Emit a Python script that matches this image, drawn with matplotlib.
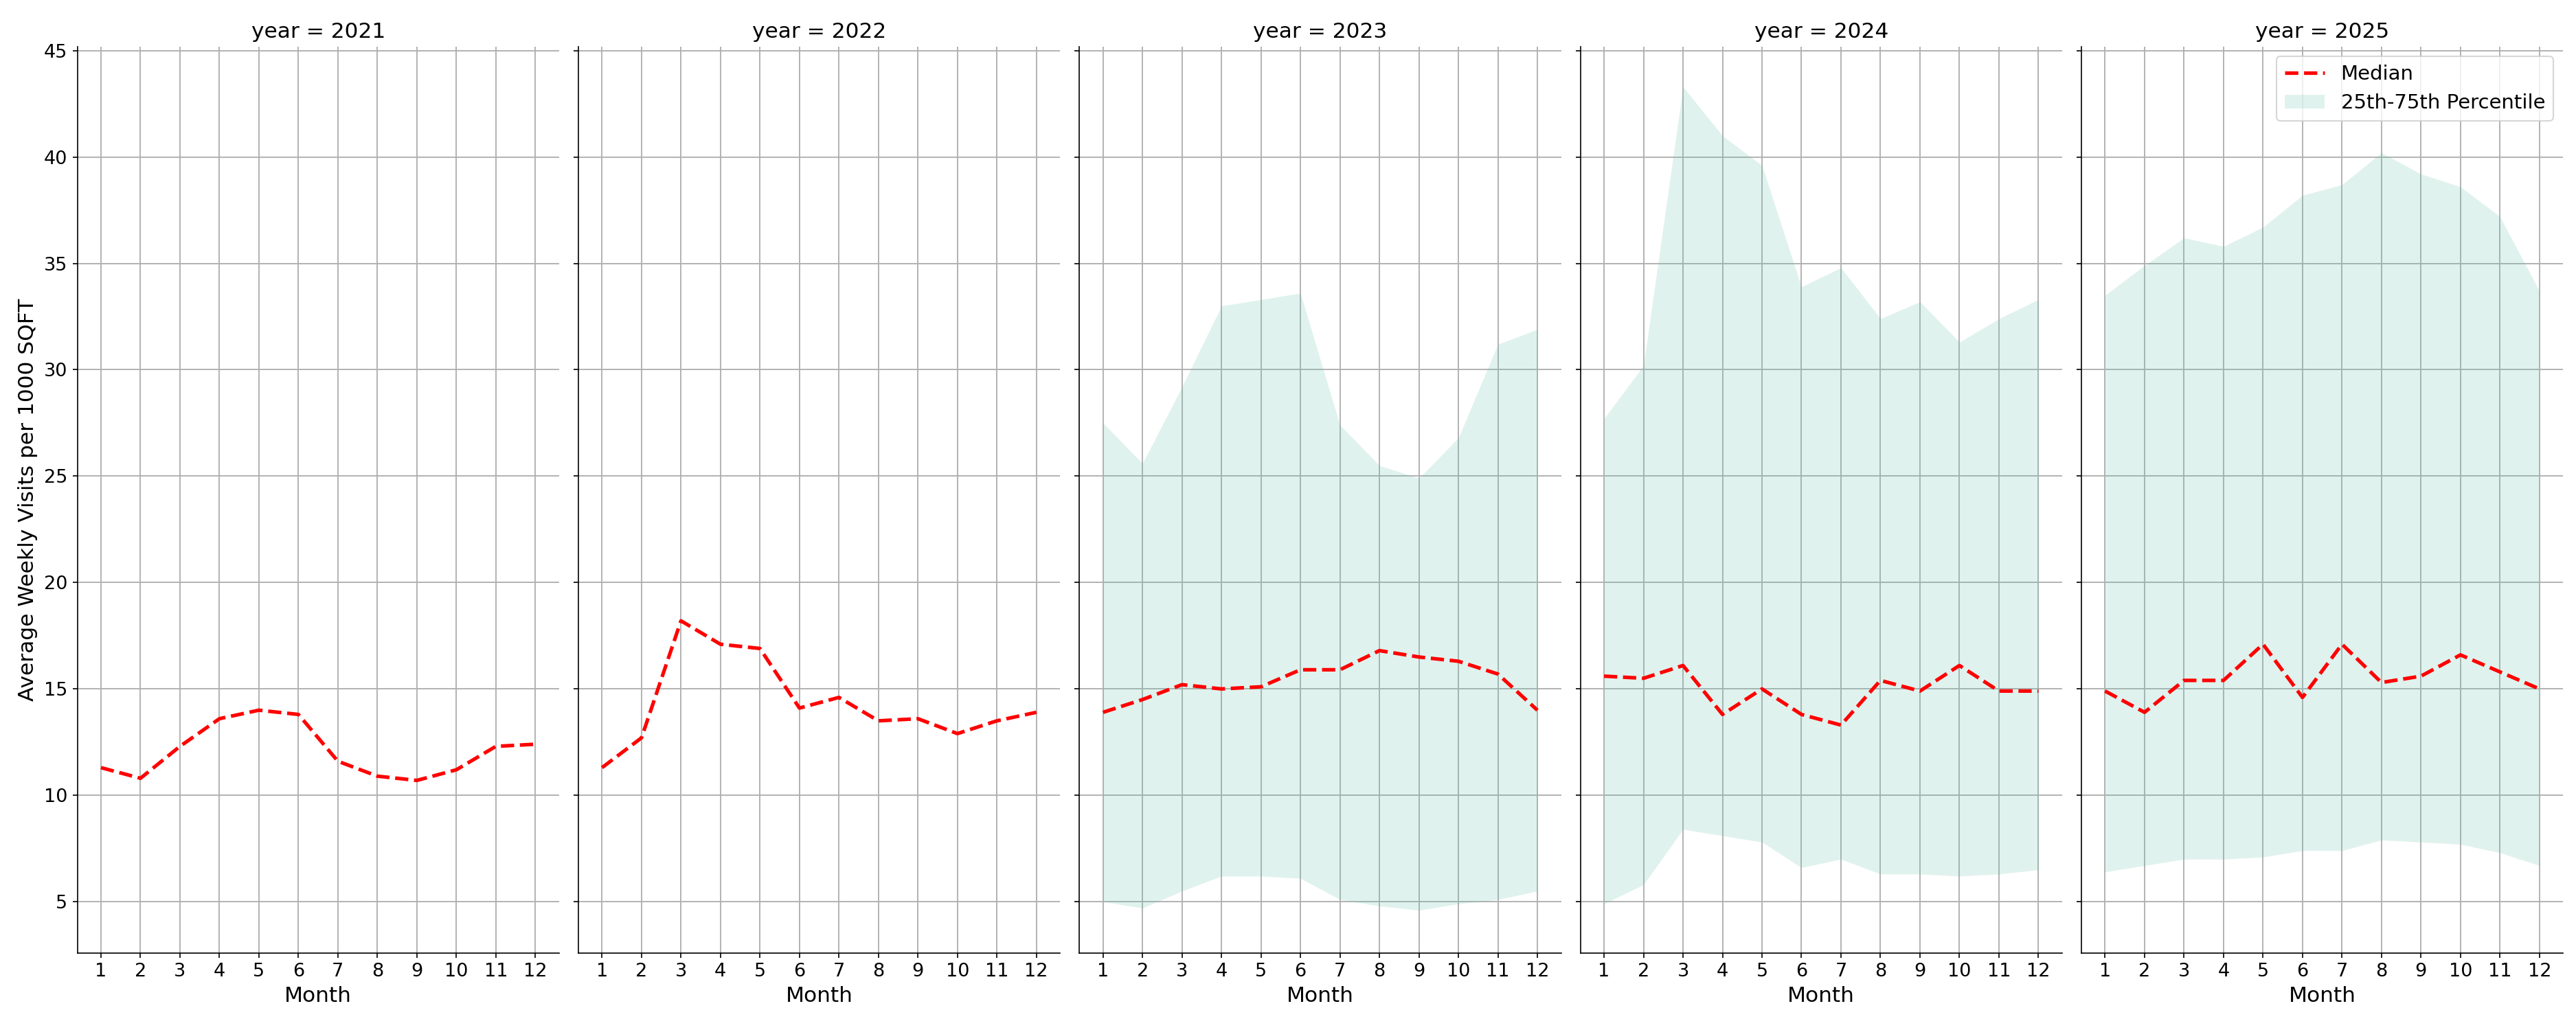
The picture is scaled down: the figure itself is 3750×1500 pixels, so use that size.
import matplotlib
matplotlib.use("Agg")
import matplotlib.pyplot as plt
import numpy as np

months = list(range(1, 13))
years = [2021, 2022, 2023, 2024, 2025]
median_2021 = [11.3,10.8,12.3,13.6,14.0,13.8,11.6,10.9,10.7,11.2,12.3,12.4]
median_2022 = [11.3,12.7,18.2,17.1,16.9,14.1,14.6,13.5,13.6,12.9,13.5,13.9]
median_2023 = [13.9,14.5,15.2,15.0,15.1,15.9,15.9,16.8,16.5,16.3,15.7,14.0]
q75_2023 = [27.5,25.6,29.2,33.0,33.3,33.6,27.4,25.5,24.9,26.8,31.2,31.9]
q25_2023 = [5.0,4.7,5.5,6.2,6.2,6.1,5.1,4.8,4.6,4.9,5.1,5.5]
median_2024 = [15.6,15.5,16.1,13.8,15.0,13.8,13.3,15.4,14.9,16.1,14.9,14.9]
q75_2024 = [27.7,30.2,43.3,41.0,39.6,33.9,34.8,32.4,33.2,31.3,32.4,33.3]
q25_2024 = [4.9,5.8,8.4,8.1,7.8,6.6,7.0,6.3,6.3,6.2,6.3,6.5]
median_2025 = [14.9,13.9,15.4,15.4,17.1,14.6,17.1,15.3,15.6,16.6,15.8,15.0]
q75_2025 = [33.5,34.9,36.2,35.8,36.7,38.2,38.7,40.2,39.2,38.6,37.2,33.7]
q25_2025 = [6.4,6.7,7.0,7.0,7.1,7.4,7.4,7.9,7.8,7.7,7.3,6.7]

medians = {2021: median_2021, 2022: median_2022, 2023: median_2023, 2024: median_2024, 2025: median_2025}
bands = {2023: (q25_2023, q75_2023), 2024: (q25_2024, q75_2024), 2025: (q25_2025, q75_2025)}

fig, axes = plt.subplots(1, 5, figsize=(25, 10), dpi=150, sharey=True)
for ax, y in zip(axes, years):
    if y in bands:
        lo, hi = bands[y]
        ax.fill_between(months, lo, hi, color='#66c2a5', alpha=0.2, linewidth=0,
                        label='25th-75th Percentile')
    ax.plot(months, medians[y], color='red', linestyle='--', linewidth=2.5, label='Median')
    ax.set_title(f"year = {y}", fontsize=15)
    ax.set_xticks(months)
    ax.set_xlim(0.4, 12.6)
    ax.grid(True, color='#b0b0b0', linewidth=0.9)
    ax.set_axisbelow(True)
    ax.spines['top'].set_visible(False)
    ax.spines['right'].set_visible(False)
    ax.tick_params(labelsize=13)
    ax.set_xlabel("Month", fontsize=15)
axes[0].set_ylim(2.6, 45.2)
axes[0].set_yticks([5, 10, 15, 20, 25, 30, 35, 40, 45])
axes[0].set_ylabel("Average Weekly Visits per 1000 SQFT", fontsize=15)
h, l = axes[-1].get_legend_handles_labels()
axes[-1].legend([h[1], h[0]], [l[1], l[0]], loc='upper right', fontsize=14)
fig.subplots_adjust(left=0.03, right=0.995, bottom=0.075, top=0.955, wspace=0.04)
fig.savefig("out.png")
